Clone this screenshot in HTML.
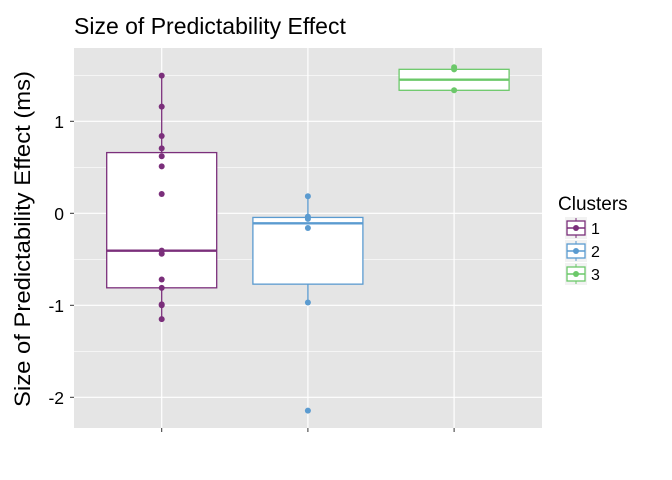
<!DOCTYPE html>
<html><head><meta charset="utf-8"><style>
body{margin:0;background:#fff;}
svg{display:block;font-family:"Liberation Sans",Arial,sans-serif;}
</style></head><body>
<svg id="chart" width="672" height="480" viewBox="0 0 672 480">
<text x="74" y="34" font-size="23" fill="#000">Size of Predictability Effect</text>
<rect x="74" y="48" width="468" height="380" fill="#e5e5e5"/>
<g id="grid"></g>
<g id="boxes"></g>
<g id="pts"></g>
<g id="axes"></g>
<text transform="translate(30,239) rotate(-90)" text-anchor="middle" font-size="22" textLength="336" lengthAdjust="spacingAndGlyphs" fill="#000">Size of Predictability Effect (ms)</text>
<g id="legend"></g>
</svg>
<script>
const categories=["1","2","3"];
const colors=["#7b2f7b","#5b9bd0","#6cc86a"];
const q1=[-0.81,-0.77,1.337];
const medians=[-0.406,-0.109,1.452];
const q3=[0.66,-0.045,1.565];
const whiskLo=[-1.15,-0.97,1.337];
const whiskHi=[1.496,0.185,1.587];
const points1=[1.496,1.159,0.84,0.706,0.62,0.51,0.21,-0.406,-0.44,-0.72,-0.81,-0.99,-1.0,-1.15];
const points2=[0.185,-0.036,-0.06,-0.16,-0.97,-2.145];
const points3=[1.587,1.565,1.337];
const pointSets=[points1,points2,points3];
const yTicks=[-2,-1,0,1];
const yTickLabels=["-2","-1","0","1"];
const ns="http://www.w3.org/2000/svg";
const y=v=>213.3-92*v;
const x=i=>161.7+146.2*i;
function mk(tag,attrs,parent){const e=document.createElementNS(ns,tag);for(const k in attrs)e.setAttribute(k,attrs[k]);document.getElementById(parent).appendChild(e);return e;}
for(let v=-2.5;v<=1.5;v+=0.5){const yy=y(v);if(yy<48||yy>428)continue;const major=Number.isInteger(v);
const l=mk('line',{x1:74,x2:542,y1:yy,y2:yy,stroke:'#fff','stroke-width':major?1.2:0.6},'grid');

}
categories.forEach((c,i)=>{const l=mk('line',{x1:x(i),x2:x(i),y1:48,y2:428,stroke:'#fff','stroke-width':1.2},'grid');

});
categories.forEach((c,i)=>{const col=colors[i];const cx=x(i);
const w1=mk('line',{x1:cx,x2:cx,y1:y(whiskHi[i]),y2:y(q3[i]),stroke:col,'stroke-width':1.3},'boxes');


const w2=mk('line',{x1:cx,x2:cx,y1:y(q1[i]),y2:y(whiskLo[i]),stroke:col,'stroke-width':1.3},'boxes');


const r=mk('rect',{x:cx-55,y:y(q3[i]),width:110,height:y(q1[i])-y(q3[i]),fill:'#fff',stroke:col,'stroke-width':1.3},'boxes');


const m=mk('line',{x1:cx-55,x2:cx+55,y1:y(medians[i]),y2:y(medians[i]),stroke:col,'stroke-width':2.4},'boxes');


pointSets[i].forEach(v=>{const p=mk('circle',{cx:cx,cy:y(v),r:3,fill:col},'pts');

});
const t=mk('line',{x1:cx,x2:cx,y1:428,y2:432,stroke:'#333','stroke-width':1},'axes');

});
yTicks.forEach((v,k)=>{const t=mk('line',{x1:70,x2:74,y1:y(v),y2:y(v),stroke:'#333','stroke-width':1},'axes');


const tx=mk('text',{x:64,y:y(v)+6.5,'text-anchor':'end','font-size':17.5,fill:'#000'},'axes');tx.textContent=yTickLabels[k];

});
const lt=mk('text',{x:558,y:210,'font-size':19,fill:'#000'},'legend');lt.textContent='Clusters';


categories.forEach((c,i)=>{const cy=228+23*i;const col=colors[i];
const g=mk('g',{},'legend');


const bg=document.createElementNS(ns,'rect');bg.setAttribute('x',565);bg.setAttribute('y',cy-11);bg.setAttribute('width',22);bg.setAttribute('height',22);bg.setAttribute('fill','#f2f2f2');g.appendChild(bg);
const vl=document.createElementNS(ns,'line');vl.setAttribute('x1',576);vl.setAttribute('x2',576);vl.setAttribute('y1',cy-10);vl.setAttribute('y2',cy+10);vl.setAttribute('stroke',col);g.appendChild(vl);
const bx=document.createElementNS(ns,'rect');bx.setAttribute('x',567);bx.setAttribute('y',cy-7);bx.setAttribute('width',18);bx.setAttribute('height',14);bx.setAttribute('fill','#fff');bx.setAttribute('stroke',col);bx.setAttribute('stroke-width',1.3);g.appendChild(bx);
const ml=document.createElementNS(ns,'line');ml.setAttribute('x1',567);ml.setAttribute('x2',585);ml.setAttribute('y1',cy);ml.setAttribute('y2',cy);ml.setAttribute('stroke',col);ml.setAttribute('stroke-width',1.5);g.appendChild(ml);
const dc=document.createElementNS(ns,'circle');dc.setAttribute('cx',576);dc.setAttribute('cy',cy);dc.setAttribute('r',3);dc.setAttribute('fill',col);g.appendChild(dc);
const tx=document.createElementNS(ns,'text');tx.setAttribute('x',591);tx.setAttribute('y',cy+6);tx.setAttribute('font-size',16);tx.textContent=c;g.appendChild(tx);});
</script>
</body></html>
